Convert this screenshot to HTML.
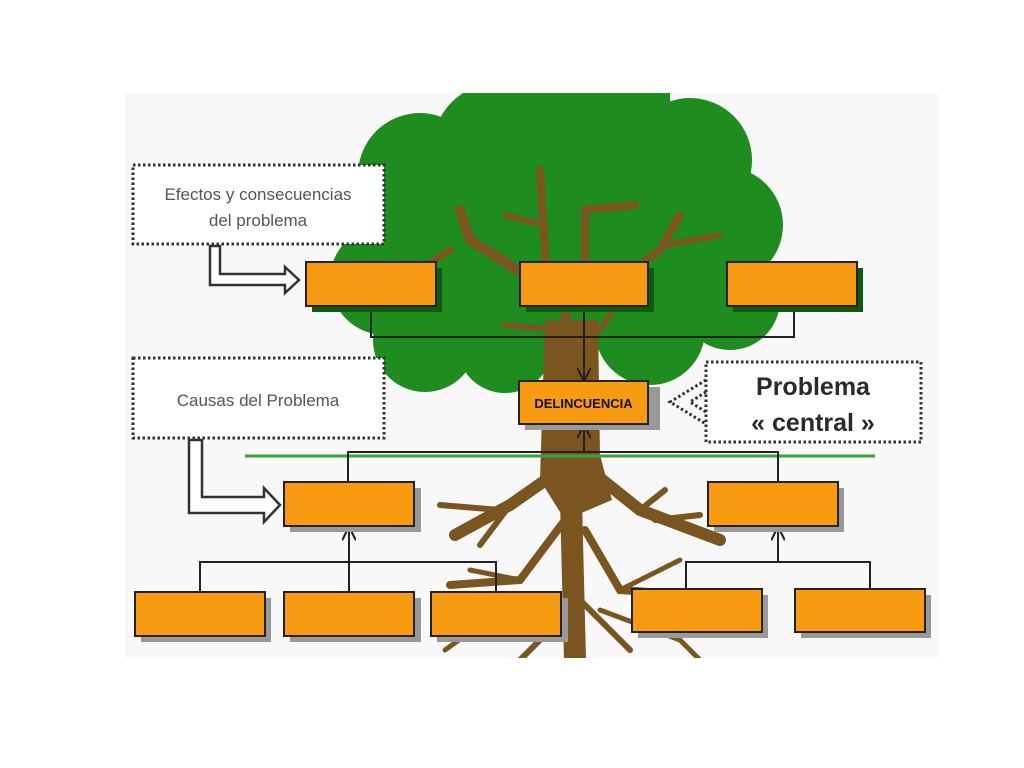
<!DOCTYPE html>
<html><head><meta charset="utf-8"><style>
html,body{margin:0;padding:0;background:#fff;}
svg{display:block;}
text{font-family:"Liberation Sans",sans-serif;}
</style></head><body>
<svg width="1024" height="768" viewBox="0 0 1024 768" xmlns="http://www.w3.org/2000/svg">
<defs>
<clipPath id="c"><rect x="125" y="93" width="813" height="565"/></clipPath>
<marker id="ar" viewBox="0 0 10 10" refX="9" refY="5" markerWidth="7" markerHeight="7" orient="auto"><path d="M0,0 L10,5 L0,10" fill="none" stroke="#222" stroke-width="1.5"/></marker>
</defs>
<rect x="125" y="93" width="813" height="565" fill="#f8f8f8"/>
<g clip-path="url(#c)">
<g fill="#1f8c1f">
<rect x="470" y="93" width="200" height="80"/>
<circle cx="420" cy="175" r="62"/><circle cx="500" cy="150" r="68"/><circle cx="600" cy="145" r="72"/>
<circle cx="690" cy="160" r="62"/><circle cx="725" cy="225" r="58"/><circle cx="385" cy="280" r="55"/>
<circle cx="425" cy="340" r="52"/><circle cx="505" cy="345" r="48"/><circle cx="650" cy="330" r="55"/>
<circle cx="730" cy="300" r="50"/><circle cx="560" cy="240" r="115"/><circle cx="450" cy="250" r="80"/><circle cx="670" cy="250" r="80"/>
</g>
<g stroke="#7b5520" stroke-linecap="round" fill="none">
<path d="M570 400 L565 300 L470 240 L460 210" stroke-width="10"/>
<path d="M548 300 L540 170" stroke-width="8"/>
<path d="M545 225 L505 215" stroke-width="6"/>
<path d="M585 260 L585 210 L635 205" stroke-width="8"/>
<path d="M590 300 L660 250 L680 215" stroke-width="8"/>
<path d="M665 245 L720 235" stroke-width="6"/>
<path d="M560 330 L505 325" stroke-width="6"/>
<path d="M600 330 L620 300" stroke-width="6"/>
<path d="M450 250 L420 270" stroke-width="7"/>
</g>
<path d="M545 320 L598 320 L600 455 L612 500 L565 520 L540 480 Z" fill="#7b5520"/>
<g stroke="#7b5520" stroke-linecap="round" fill="none">
<path d="M570 460 L575 660" stroke-width="22"/>
<path d="M560 470 L510 505 L455 535" stroke-width="12"/>
<path d="M500 510 L440 505" stroke-width="6"/>
<path d="M510 505 L480 545" stroke-width="6"/>
<path d="M590 470 L640 510 L720 540" stroke-width="12"/>
<path d="M640 510 L665 490" stroke-width="6"/>
<path d="M655 520 L700 515" stroke-width="6"/>
<path d="M565 520 L520 580 L450 585" stroke-width="8"/>
<path d="M520 580 L470 570" stroke-width="5"/>
<path d="M585 530 L620 590 L690 595" stroke-width="8"/>
<path d="M620 590 L680 560" stroke-width="5"/>
<path d="M575 600 L540 640 L520 660" stroke-width="6"/>
<path d="M580 600 L630 650" stroke-width="6"/>
<path d="M560 610 L480 625 L445 650" stroke-width="5"/>
<path d="M600 610 L680 640 L700 660" stroke-width="5"/>
</g>
</g>
<line x1="245" y1="456" x2="875" y2="456" stroke="#3aa23a" stroke-width="3"/>
<g stroke="#222" stroke-width="2" fill="none">
<path d="M371 306 V337 H794 V306"/>
<path d="M584 306 V380" marker-end="url(#ar)"/>
<path d="M348 482 V452 H778 V482"/>
<path d="M584 452 V426" marker-end="url(#ar)"/>
<path d="M200 592 V562 H496 V592"/>
<path d="M349 592 V528" marker-end="url(#ar)"/>
<path d="M686 589 V562 H870 V589"/>
<path d="M778 562 V528" marker-end="url(#ar)"/>
</g>
<g>
<g fill="#0f5a0f">
<rect x="312" y="268" width="130" height="44"/><rect x="526" y="268" width="128" height="44"/><rect x="733" y="268" width="130" height="44"/>
</g>
<g fill="#999">
<rect x="525" y="387" width="135" height="43"/>
<rect x="290" y="488" width="131" height="44"/><rect x="714" y="488" width="130" height="44"/>
<rect x="141" y="598" width="130" height="44"/><rect x="290" y="598" width="131" height="44"/><rect x="437" y="598" width="131" height="44"/>
<rect x="638" y="595" width="130" height="43"/><rect x="801" y="595" width="130" height="43"/>
</g>
<g fill="#f89a12" stroke="#222" stroke-width="2">
<rect x="306" y="262" width="130" height="44"/><rect x="520" y="262" width="128" height="44"/><rect x="727" y="262" width="130" height="44"/>
<rect x="519" y="381" width="129" height="43"/>
<rect x="284" y="482" width="130" height="44"/><rect x="708" y="482" width="130" height="44"/>
<rect x="135" y="592" width="130" height="44"/><rect x="284" y="592" width="130" height="44"/><rect x="431" y="592" width="130" height="44"/>
<rect x="632" y="589" width="130" height="43"/><rect x="795" y="589" width="130" height="43"/>
</g>
<text x="583.5" y="408" font-size="13" font-weight="bold" text-anchor="middle" fill="#111">DELINCUENCIA</text>
</g>
<g fill="#fff" stroke="#333" stroke-width="3" stroke-dasharray="2.5 2.5">
<rect x="133" y="165" width="251" height="79"/>
<rect x="133" y="358" width="251" height="80"/>
<rect x="706" y="362" width="215" height="80"/>
<path d="M706 380 L670 402 L706 424" fill="none"/>
<path d="M706 392 L690 402 L706 412" fill="none"/>
</g>
<text x="258" y="200" font-size="17" text-anchor="middle" fill="#555">Efectos y consecuencias</text>
<text x="258" y="226" font-size="17" text-anchor="middle" fill="#555">del problema</text>
<text x="258" y="406" font-size="17" text-anchor="middle" fill="#555">Causas del Problema</text>
<text x="813" y="395" font-size="25" font-weight="bold" text-anchor="middle" fill="#2a2a2a">Problema</text>
<text x="813" y="431" font-size="25" font-weight="bold" text-anchor="middle" fill="#2a2a2a">« central »</text>
<g fill="#fff" stroke="#333" stroke-width="2.5" stroke-linejoin="miter">
<path d="M210 246 V285 H285 V293 L299 280 L285 267 V274 H220 V246 Z"/>
<path d="M189 440 V513 H264 V522 L280 505 L264 488 V497 H202 V440 Z"/>
</g>
</svg>
</body></html>
